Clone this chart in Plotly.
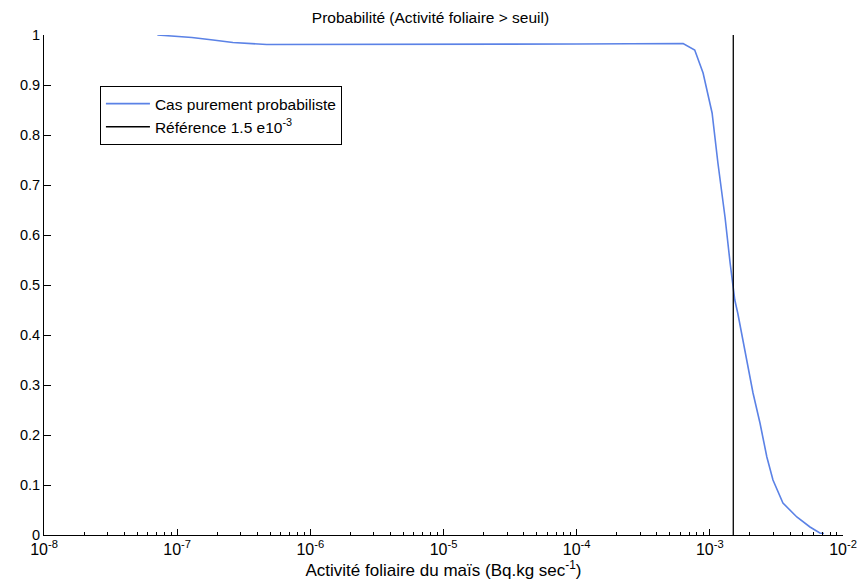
import plotly.graph_objects as go

# Data
activite = [7.1e-8, 1.29e-7, 1.86e-7, 2.62e-7, 4.7e-7, 1e-6, 1e-5, 1e-4, 6.3e-4,
            7.7e-4, 8.9e-4, 1.04e-3, 1.15e-3, 1.30e-3, 1.42e-3, 1.48e-3, 1.54e-3,
            1.62e-3, 1.90e-3, 2.11e-3, 2.38e-3, 2.68e-3, 2.98e-3, 3.54e-3, 4.5e-3,
            5.65e-3, 6.7e-3, 7.2e-3]
probabilite = [1.0, 0.995, 0.99, 0.985, 0.981, 0.981, 0.981, 0.982, 0.983,
               0.97, 0.924, 0.844, 0.744, 0.636, 0.544, 0.51, 0.47,
               0.444, 0.35, 0.284, 0.224, 0.156, 0.11, 0.064, 0.036,
               0.016, 0.004, 0.003]
reference_x = [1.5e-3, 1.5e-3]
reference_y = [0, 1]

x_tickvals = [1e-8, 1e-7, 1e-6, 1e-5, 1e-4, 1e-3, 1e-2]
x_ticktext = ["10<sup>-8</sup>", "10<sup>-7</sup>", "10<sup>-6</sup>", "10<sup>-5</sup>",
              "10<sup>-4</sup>", "10<sup>-3</sup>", "10<sup>-2</sup>"]
y_tickvals = [0, 0.1, 0.2, 0.3, 0.4, 0.5, 0.6, 0.7, 0.8, 0.9, 1]
y_ticktext = ["0", "0.1", "0.2", "0.3", "0.4", "0.5", "0.6", "0.7", "0.8", "0.9", "1"]
minor_vals = [m * 10.0 ** e for e in range(-8, -2) for m in range(2, 10)]

font = "Liberation Sans, Arial, Helvetica, sans-serif"

fig = go.Figure()
fig.add_trace(go.Scatter(x=activite, y=probabilite, mode="lines",
                         name="Cas purement probabiliste",
                         line=dict(color="#5b82e6", width=1.6)))
fig.add_trace(go.Scatter(x=reference_x, y=reference_y, mode="lines",
                         name="Référence 1.5 e10<sup>-3</sup>",
                         line=dict(color="black", width=1.3)))

fig.update_layout(
    width=861, height=581,
    margin=dict(l=44, r=18, t=35, b=46),
    paper_bgcolor="white", plot_bgcolor="white",
    font=dict(family=font, size=14, color="black"),
    title=dict(text="Probabilité (Activité foliaire > seuil)", x=0.5, xanchor="center",
               y=0.97, yanchor="middle", font=dict(size=15.5)),
    showlegend=True,
    legend=dict(x=0.07, y=0.898, xanchor="left", yanchor="top",
                bordercolor="black", borderwidth=1, bgcolor="white",
                font=dict(size=15.5), itemwidth=44, tracegroupgap=0),
)
fig.update_xaxes(type="log", range=[-8, -2], tickvals=x_tickvals, ticktext=x_ticktext,
                 showline=True, linecolor="black", linewidth=1, mirror=False,
                 ticks="inside", ticklen=6, tickcolor="black", showgrid=False, zeroline=False,
                 minor=dict(tickvals=minor_vals, ticks="inside", ticklen=3,
                            tickcolor="black", showgrid=False),
                 title=dict(text="Activité foliaire du maïs (Bq.kg sec<sup>-1</sup>)",
                            font=dict(size=17), standoff=2),
                 tickfont=dict(size=16), automargin=False)
fig.update_yaxes(range=[0, 1], tickvals=y_tickvals, ticktext=y_ticktext,
                 showline=True, linecolor="black", linewidth=1, mirror=False,
                 ticks="inside", ticklen=7, tickcolor="black", showgrid=False, zeroline=False,
                 tickfont=dict(size=14.5), automargin=False)

fig.write_html("out.html")
